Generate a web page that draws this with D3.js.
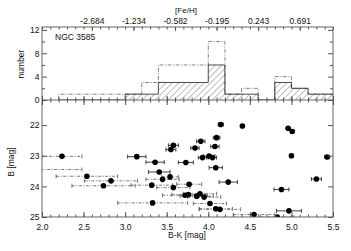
<!DOCTYPE html>
<html>
<head>
<meta charset="utf-8">
<script src="https://cdn.jsdelivr.net/npm/d3@7"></script>
<style>
body { margin: 0; background: #fff; }
text { font-family: "Liberation Sans", Arial, sans-serif; fill: #111; }
</style>
</head>
<body>
<div id="chart"></div>
<script>
// histogram bins (B-K) and counts
var binEdges = [2.2, 2.4, 2.6, 2.8, 3.0, 3.2, 3.4, 3.6, 3.8, 4.0, 4.2, 4.4, 4.6, 4.8, 5.0, 5.2, 5.4, 5.6];
var countGood = [0, 0, 0, 0, 1, 1, 3, 3, 3, 6, 1, 1, 0, 3, 2, 1, 1];
var countAll  = [1, 1, 1, 1, 1, 3, 6, 6, 6, 10, 1, 2, 0, 4, 2, 1, 1];

// [Fe/H] scale along the top
var fehPos    = [2.6, 3.1, 3.6, 4.1, 4.6, 5.1];
var fehLabels = ['-2.684', '-1.234', '-0.582', '-0.195', '0.243', '0.691'];

// clusters with small errors
var goodBK  = [3.14, 3.36, 3.41, 3.58, 3.55, 3.73, 3.91, 3.84, 3.93, 4.01, 4.05, 4.15, 4.10, 4.08, 4.09, 4.24, 4.41, 4.96, 5.01, 5.00, 5.43, 5.30, 4.88, 4.97];
var goodB   = [23.03, 23.21, 23.53, 22.66, 22.80, 23.22, 22.53, 22.75, 23.06, 23.01, 23.06, 21.98, 22.41, 22.70, 23.39, 23.86, 22.03, 22.10, 22.21, 23.00, 23.04, 23.76, 24.10, 24.80];
var goodErr = [0.11, 0.11, 0.13, 0.06, 0.06, 0.09, 0.05, 0.05, 0.05, 0.07, 0.05, 0.03, 0.04, 0.05, 0.08, 0.11, 0.02, 0.02, 0.02, 0.02, 0.03, 0.06, 0.09, 0.15];

// clusters with large errors
var poorBK  = [2.24, 1.85, 2.54, 2.83, 2.74, 3.32, 3.33, 3.45, 3.54, 3.58, 3.77, 3.72, 3.76, 3.86, 3.90, 3.95, 4.02, 4.09, 4.14, 4.55, 4.83];
var poorB   = [23.02, 23.45, 23.67, 23.82, 23.98, 23.96, 24.54, 23.77, 23.69, 24.04, 23.93, 24.29, 24.27, 24.32, 24.24, 24.35, 24.56, 24.73, 24.75, 24.92, 25.00];
var poorErr = [0.24, 0.63, 0.37, 0.32, 0.38, 0.25, 0.42, 0.2, 0.1, 0.2, 0.15, 0.27, 0.2, 0.2, 0.2, 0.2, 0.2, 0.2, 0.25, 0.25, 0.2];

var W = 351, H = 251;
var left = 42, right = 333;
var topT = 27, mid = 100, bot = 217;

var x  = d3.scaleLinear().domain([2.0, 5.5]).range([left, right]);
var yN = d3.scaleLinear().domain([0, 12.5]).range([mid, topT]);
var yB = d3.scaleLinear().domain([21.18, 25]).range([mid, bot]);

var svg = d3.select('#chart').append('svg')
    .attr('width', W)
    .attr('height', H);

var defs = svg.append('defs');
var pat = defs.append('pattern')
    .attr('id', 'hatch')
    .attr('patternUnits', 'userSpaceOnUse')
    .attr('width', 4.5).attr('height', 4.5)
    .attr('patternTransform', 'rotate(45)');
pat.append('line')
    .attr('x1', 0).attr('y1', 0).attr('x2', 0).attr('y2', 4.5)
    .attr('stroke', '#444').attr('stroke-width', 0.7);

defs.append('clipPath').attr('id', 'clipTop')
  .append('rect').attr('x', left).attr('y', topT).attr('width', right - left).attr('height', mid - topT);
defs.append('clipPath').attr('id', 'clipBot')
  .append('rect').attr('x', left).attr('y', mid).attr('width', right - left).attr('height', bot - mid);

//Histograms
function stepPts(counts) {
    var pts = [[binEdges[0], 0]];
    counts.forEach(function(c, i) {
        pts.push([binEdges[i], c]);
        pts.push([binEdges[i + 1], c]);
    });
    pts.push([binEdges[binEdges.length - 1], 0]);
    return pts;
}
var stepLine = d3.line()
    .x(function(d) { return x(d[0]); })
    .y(function(d) { return yN(d[1]); });

var hist = svg.append('g').attr('clip-path', 'url(#clipTop)');
hist.append('path')
    .attr('d', stepLine(stepPts(countGood)))
    .attr('fill', 'url(#hatch)')
    .attr('stroke', 'none');
hist.append('path')
    .attr('d', stepLine(stepPts(countAll)))
    .attr('fill', 'none')
    .attr('stroke', '#666')
    .attr('stroke-width', 0.8)
    .attr('stroke-dasharray', '4,1.5,1,1.5');
hist.append('path')
    .attr('d', stepLine(stepPts(countGood)))
    .attr('fill', 'none')
    .attr('stroke', '#222')
    .attr('stroke-width', 0.8);

//Scatter
var sc = svg.append('g').attr('clip-path', 'url(#clipBot)');

function drawBars(bk, b, err, dashed) {
    var g = sc.append('g');
    bk.forEach(function(v, i) {
        var x0 = x(v - err[i]), x1 = x(v + err[i]), yy = yB(b[i]);
        g.append('line')
            .attr('x1', x0).attr('x2', x1).attr('y1', yy).attr('y2', yy)
            .attr('stroke', dashed ? '#555' : '#111')
            .attr('stroke-width', 0.8)
            .attr('stroke-dasharray', dashed ? '3,1.5,1,1.5' : null);
        [x0, x1].forEach(function(xc) {
            g.append('line')
                .attr('x1', xc).attr('x2', xc).attr('y1', yy - 2).attr('y2', yy + 2)
                .attr('stroke', dashed ? '#555' : '#111')
                .attr('stroke-width', 0.8);
        });
    });
}
drawBars(poorBK, poorB, poorErr, true);
drawBars(goodBK, goodB, goodErr, false);

function drawDots(bk, b) {
    sc.append('g').selectAll('circle')
        .data(bk)
        .enter()
        .append('circle')
            .attr('cx', function(d) { return x(d); })
            .attr('cy', function(d, i) { return yB(b[i]); })
            .attr('r', 2.8)
            .attr('fill', '#000');
}
drawDots(poorBK, poorB);
drawDots(goodBK, goodB);

//Axes
var minorX = d3.range(20, 56).map(function(d) { return d / 10; });
var majorX = [2.0, 2.5, 3.0, 3.5, 4.0, 4.5, 5.0, 5.5];

function ticksOnly(axis, y, vals, size) {
    svg.append('g')
        .attr('transform', 'translate(0,' + y + ')')
        .call(axis(x).tickValues(vals).tickSize(size).tickFormat(''))
        .call(function(g) { g.select('.domain').remove(); g.selectAll('line').attr('stroke', '#555'); });
}
// bottom of lower panel
ticksOnly(d3.axisBottom, bot, minorX, -2.5);
svg.append('g')
    .attr('transform', 'translate(0,' + bot + ')')
    .call(d3.axisBottom(x).tickValues(majorX).tickSize(-5).tickPadding(6.5).tickFormat(d3.format('.1f')))
    .call(function(g) {
        g.select('.domain').remove();
        g.selectAll('line').attr('stroke', '#555');
        g.selectAll('text').attr('font-size', '8.5px').attr('fill', '#111');
    });
// shared border, ticks both ways
ticksOnly(d3.axisBottom, mid, minorX, 2.5);
ticksOnly(d3.axisBottom, mid, majorX, 5);
ticksOnly(d3.axisTop, mid, minorX, 2.5);
ticksOnly(d3.axisTop, mid, majorX, 4);
// top with [Fe/H]
ticksOnly(d3.axisTop, topT, minorX, -2.5);
svg.append('g')
    .attr('transform', 'translate(0,' + topT + ')')
    .call(d3.axisTop(x).tickValues(fehPos).tickSize(-4).tickPadding(3)
        .tickFormat(function(d, i) { return fehLabels[i]; }))
    .call(function(g) {
        g.select('.domain').remove();
        g.selectAll('line').attr('stroke', '#555');
        g.selectAll('text').attr('font-size', '8.5px').attr('fill', '#111');
    });

// y axes
function yAxis(scale, vals, labelled, size) {
    svg.append('g')
        .attr('transform', 'translate(' + left + ',0)')
        .call(d3.axisLeft(scale).tickValues(vals).tickSize(-size).tickPadding(2.5)
            .tickFormat(labelled ? d3.format('d') : ''))
        .call(function(g) {
            g.select('.domain').remove();
            g.selectAll('line').attr('stroke', '#555');
            g.selectAll('text').attr('font-size', '8.5px').attr('fill', '#111');
        });
    svg.append('g')
        .attr('transform', 'translate(' + right + ',0)')
        .call(d3.axisRight(scale).tickValues(vals).tickSize(-size).tickFormat(''))
        .call(function(g) { g.select('.domain').remove(); g.selectAll('line').attr('stroke', '#555'); });
}
yAxis(yN, [0, 4, 8, 12], true, 5);
yAxis(yN, [2, 6, 10], false, 3);
yAxis(yB, [22, 23, 24, 25], true, 5);

// frame
svg.append('rect')
    .attr('x', left).attr('y', topT)
    .attr('width', right - left).attr('height', bot - topT)
    .attr('fill', 'none').attr('stroke', '#555').attr('stroke-width', 0.9);
svg.append('line')
    .attr('x1', left).attr('x2', right).attr('y1', mid).attr('y2', mid)
    .attr('stroke', '#555').attr('stroke-width', 0.9);

//Labels
svg.append('text')
    .attr('x', 55).attr('y', 40)
    .attr('font-size', '8.5px')
    .text('NGC 3585');

svg.append('text')
    .attr('x', 186).attr('y', 13)
    .attr('font-size', '8px')
    .attr('text-anchor', 'middle')
    .text('[Fe/H]');

svg.append('text')
    .attr('x', 187).attr('y', 238)
    .attr('font-size', '8.5px')
    .attr('text-anchor', 'middle')
    .text('B-K [mag]');

svg.append('text')
    .attr('transform', 'translate(24,64) rotate(-90)')
    .attr('font-size', '8.5px')
    .attr('text-anchor', 'middle')
    .text('number');

svg.append('text')
    .attr('transform', 'translate(14,162) rotate(-90)')
    .attr('font-size', '8.5px')
    .attr('text-anchor', 'middle')
    .text('B [mag]');
</script>
</body>
</html>
